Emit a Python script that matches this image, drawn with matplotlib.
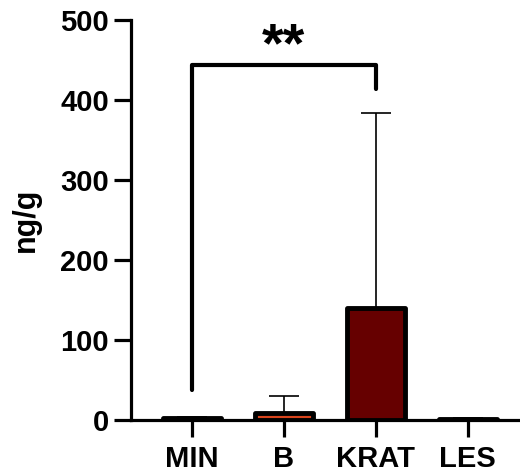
import matplotlib.pyplot as plt

plt.rcParams['font.family'] = ['Liberation Sans', 'DejaVu Sans']
plt.rcParams['font.weight'] = 'bold'

groups = ['MIN', 'B', 'KRAT', 'LES']
means = [2, 9, 140, 1]
errors = [1.5, 21, 244, 1]
colors = ['#000000', '#d9441c', '#660000', '#000000']

# significance bracket between MIN and KRAT
bracket_y = 444
bracket_left_bottom = 37
bracket_right_bottom = 414
star_text = '**'

fig = plt.figure(figsize=(5.2, 4.74), dpi=100)
ax = fig.add_axes([0.252, 0.114, 0.748, 0.844])

x = list(range(len(groups)))
ax.bar(x, means, width=0.63, color=colors, edgecolor='black',
       linewidth=3.5, joinstyle='round', zorder=2)
ax.errorbar(x, means, yerr=[[0] * len(errors), errors], fmt='none',
            ecolor='black', elinewidth=1.2, capsize=11, capthick=1.2, zorder=1)

ax.plot([0, 0, 2, 2], [bracket_left_bottom, bracket_y, bracket_y, bracket_right_bottom],
        color='black', linewidth=3, solid_capstyle='round', solid_joinstyle='round',
        clip_on=False)
ax.text(1, 448, star_text, ha='center', va='baseline', fontsize=40,
        fontweight='bold')

ax.set_xlim(-0.66, 3.57)
ax.set_ylim(0, 500)
ax.set_yticks([0, 100, 200, 300, 400, 500])
ax.set_xticks(x)
ax.set_xticklabels(groups)
ax.set_ylabel('ng/g', fontsize=22, fontweight='bold', labelpad=14)

for side in ['top', 'right']:
    ax.spines[side].set_visible(False)
for side in ['left', 'bottom']:
    ax.spines[side].set_linewidth(2.3)
ax.tick_params(axis='both', length=12, width=2.3, labelsize=21, pad=4)
ax.tick_params(axis='x', pad=6)

fig.savefig('out.png', dpi=100)
